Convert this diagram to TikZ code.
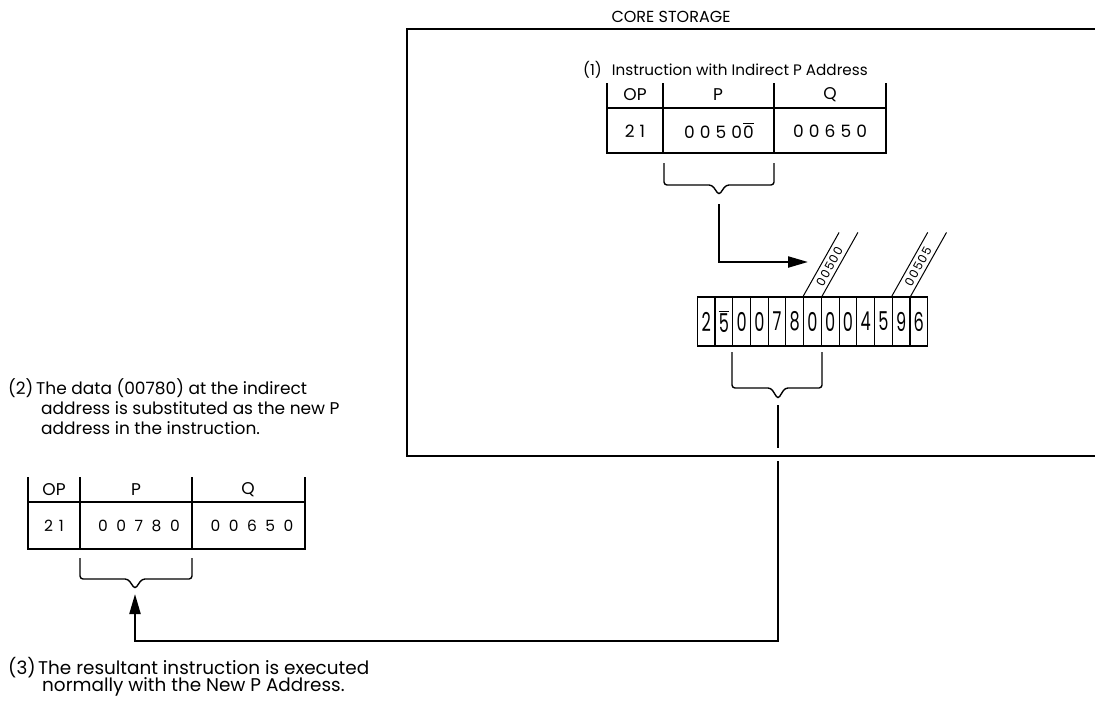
\documentclass[tikz,border=0pt]{standalone}
\usepackage{fontspec}
\setmainfont{Poppins}
\usetikzlibrary{arrows.meta,calc}
\newcommand\ovl[1]{\leavevmode\vbox{\hrule height 1pt\kern1.5pt\hbox{#1}}}
\newcommand\memdig[1]{\scalebox{0.62}[1]{\fontsize{26}{26}\selectfont #1}}
\begin{document}
\begin{tikzpicture}[x=1pt,y=-1pt,
  frame/.style={line width=1.3pt},
  tbl/.style={line width=1.4pt},
  conn/.style={line width=2.2pt},
  brc/.style={line width=1.4pt, rounded corners=3pt},
  lbl/.style={font=\fontsize{17}{20}\selectfont, inner sep=0pt, anchor=west},
  lblb/.style={font=\fontsize{18.4}{20}\selectfont, inner sep=0pt, anchor=west},
  hd/.style={font=\fontsize{17}{17}\selectfont, inner sep=0pt},
  dg/.style={font=\fontsize{17}{17}\selectfont\addfontfeatures{LetterSpace=30}, inner sep=0pt},
  dgw/.style={font=\fontsize{15.5}{15}\selectfont\addfontfeatures{LetterSpace=55}, inner sep=0pt},
  cell/.style={draw, line width=1.1pt, minimum width=17.72pt, minimum height=49pt, inner sep=0pt},
  strip/.style={line width=1pt},
  stxt/.style={font=\fontsize{12}{12}\selectfont\addfontfeatures{LetterSpace=10}, inner sep=0pt, rotate=61},
  tip/.style={-{Triangle[length=20pt,width=11pt]}},
]
\useasboundingbox (0,0) rectangle (1095,704);

% ---- title
\node[font=\fontsize{16}{16}\selectfont, inner sep=0pt] (title) at (671,17) {CORE STORAGE};

% ---- top instruction
\node[font=\fontsize{15.2}{20}\selectfont, inner sep=0pt, anchor=west] (n1) at (583,70) {(1)\hspace{10pt}Instruction with Indirect P Address};
\draw[tbl] (607,83) -- (607,153) -- (886,153) -- (886,83);
\draw[tbl] (663,83) -- (663,153);
\draw[tbl] (774,83) -- (774,153);
\draw[tbl] (607,108) -- (886,108);
\node[hd] (op1) at (635,95) {OP};
\node[hd] (p1) at (718,95) {P};
\node[hd] (q1) at (830,95) {Q};
\node[dg] (v1a) at (635,131) {21};
\node[dg] (v1b) at (719,131) {0050\kern1pt\ovl{0}};
\node[dg] (v1c) at (830,131) {00650};
\draw[brc] (664,163) -- (664,185) -- (712,185) -- (719,195) -- (726,185) -- (774,185) -- (774,163);
\coordinate (b1s) at (719,204);
\coordinate (t1) at (808,262);

% ---- memory
\foreach \d [count=\i] in {2,{\ovl{5}},0,0,7,8,0,0,0,4,5,9,6}{
  \node[cell] (m\i) at ({697.3+(\i-0.5)*17.72},321.5) {\memdig{\d}};
}
\draw[strip] (m7.north west) -- ++(36,-64);
\draw[strip] (m7.north east) -- ++(36,-64);
\node[stxt] (s1) at ($(m7.north)+(17,-30)$) {00500};
\draw[strip] (m12.north west) -- ++(36,-64);
\draw[strip] (m12.north east) -- ++(36,-64);
\node[stxt] (s2) at ($(m12.north)+(17,-30)$) {00505};
\draw[brc] (732,352) -- (732,388) -- (771,388) -- (778,399) -- (785,388) -- (822,388) -- (822,352);
\coordinate (b2s) at (778,405);
\coordinate (c2) at (778,641);
\coordinate (t2) at (135,594);

% ---- connectors
\draw[conn,tip] (b1s) |- (t1);
\draw[conn,tip] (b2s) -- (c2) -| (t2);

% ---- core storage frame (with gap in connector)
\fill[white] (771,448) rectangle (785,461);
\draw[frame] (1100,29) -- (407,29) -- (407,456) -- (1100,456);

% ---- text (2)
\node[lbl] (n2) at (8,388) {(2)};
\node[lbl] (t2a) at (36,388) {The data (00780) at the indirect};
\node[lbl] (t2b) at (41,408) {address is substituted as the new P};
\node[lbl] (t2c) at (41,428) {address in the instruction.};

% ---- lower instruction
\draw[tbl] (28,477) -- (28,549) -- (305,549) -- (305,477);
\draw[tbl] (80,477) -- (80,549);
\draw[tbl] (192,477) -- (192,549);
\draw[tbl] (28,502) -- (305,502);
\node[hd] (op2) at (54,490) {OP};
\node[hd] (p2) at (136,490) {P};
\node[hd] (q2) at (248,490) {Q};
\node[dgw] (v2a) at (54,526) {2\kern6pt1};
\node[dgw] (v2b) at (139,526) {00780};
\node[dgw] (v2c) at (252,526) {00650};
\draw[brc] (80,558) -- (80,579) -- (128,579) -- (135,589) -- (142,579) -- (192,579) -- (192,558);

% ---- text (3)
\node[lblb] (n3) at (8,668) {(3)};
\node[lblb] (t3a) at (38,668) {The resultant instruction is executed};
\node[lblb] (t3b) at (42,687) {normally with the New P Address.};
\end{tikzpicture}
\end{document}
